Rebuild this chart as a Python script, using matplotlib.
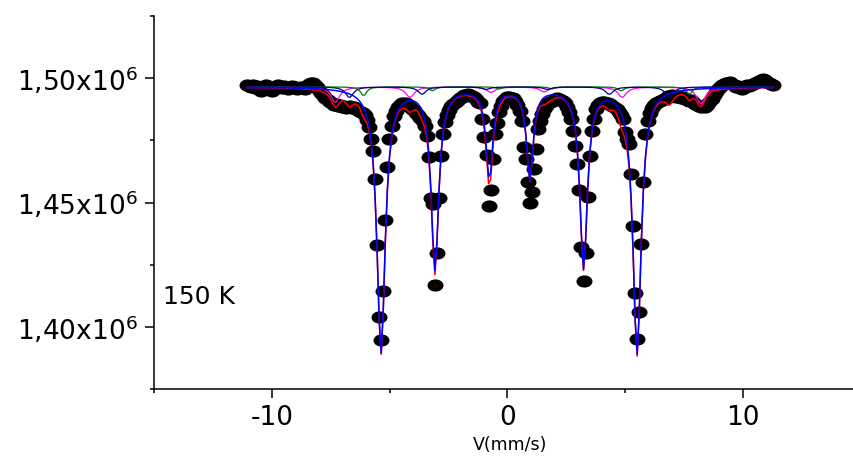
import numpy as np
import matplotlib
matplotlib.use("Agg")
import matplotlib.pyplot as plt
from matplotlib.path import Path
from matplotlib.ticker import FixedLocator, FuncFormatter

plt.rcParams['font.family'] = ['DejaVu Sans']
plt.rcParams['mathtext.fontset'] = 'dejavusans'
plt.rcParams['axes.unicode_minus'] = False

# --- spectrum: 256 channels on a linear velocity scale (mm/s) -------------
V_FIRST, V_LAST, N_CH = -11.05, 11.3, 256

counts_k = [
    1497.2, 1496.8, 1496.4, 1497.2, 1496.0, 1496.8, 1495.6, 1494.8, 1496.0, 1497.2,
    1496.4, 1495.2, 1494.8, 1495.6, 1496.8, 1497.2, 1496.4, 1496.0, 1496.8, 1496.4,
    1495.6, 1496.0, 1496.8, 1496.4, 1495.6, 1496.0, 1496.4, 1496.0, 1495.6, 1496.8,
    1497.6, 1498.0, 1498.0, 1497.2, 1496.4, 1495.2, 1494.0, 1493.1, 1491.9, 1491.1,
    1490.3, 1489.9, 1489.1, 1489.5, 1488.7, 1489.1, 1488.3, 1488.7, 1487.9, 1488.3,
    1488.7, 1487.9, 1488.3, 1487.5, 1486.7, 1486.3, 1485.9, 1485.1, 1483.1, 1480.2,
    1475.4, 1470.6, 1459.3, 1433.1, 1404.0, 1394.8, 1414.5, 1443.1, 1464.1, 1475.4,
    1480.6, 1484.7, 1486.7, 1488.3, 1489.1, 1489.9, 1489.5, 1489.9, 1488.7, 1488.3,
    1487.5, 1487.1, 1485.9, 1485.1, 1483.9, 1482.7, 1480.6, 1476.6, 1468.1, 1452.0,
    1449.2, 1416.9, 1429.8, 1452.0, 1468.5, 1477.4, 1482.3, 1485.1, 1487.1, 1488.7,
    1489.5, 1490.3, 1491.1, 1491.9, 1492.3, 1493.1, 1492.7, 1493.5, 1493.1, 1492.7,
    1492.3, 1491.5, 1490.3, 1489.9, 1483.5, 1476.2, 1469.0, 1448.4, 1455.2, 1467.3,
    1477.4, 1481.9, 1486.3, 1488.7, 1490.7, 1491.5, 1492.3, 1492.3, 1491.9, 1491.9,
    1490.7, 1489.1, 1486.7, 1482.7, 1472.2, 1467.3, 1458.1, 1450.0, 1454.4, 1463.3,
    1471.4, 1479.4, 1482.7, 1485.5, 1487.5, 1488.7, 1489.9, 1490.3, 1490.7, 1491.5,
    1491.9, 1491.5, 1491.1, 1490.7, 1489.9, 1488.3, 1486.3, 1483.5, 1478.6, 1472.6,
    1465.3, 1455.2, 1432.3, 1418.5, 1429.8, 1452.4, 1468.5, 1478.6, 1483.5, 1487.5,
    1489.1, 1489.9, 1490.3, 1490.3, 1489.9, 1489.9, 1489.5, 1488.7, 1488.3, 1487.5,
    1486.3, 1485.1, 1483.5, 1478.2, 1475.4, 1473.4, 1461.3, 1440.7, 1413.7, 1395.2,
    1406.0, 1433.5, 1458.1, 1477.4, 1482.7, 1485.9, 1487.9, 1489.1, 1489.9, 1490.3,
    1490.7, 1491.1, 1491.5, 1491.9, 1492.7, 1492.3, 1493.1, 1492.7, 1492.3, 1492.7,
    1491.9, 1492.3, 1491.5, 1491.1, 1490.7, 1491.1, 1490.3, 1489.5, 1489.1, 1488.7,
    1488.3, 1488.7, 1488.3, 1489.1, 1490.3, 1491.5, 1493.1, 1494.4, 1495.6, 1496.4,
    1497.2, 1497.6, 1498.0, 1498.0, 1498.4, 1497.6, 1497.2, 1496.4, 1496.8, 1496.0,
    1495.6, 1496.4, 1497.2, 1496.8, 1497.2, 1497.6, 1498.0, 1498.4, 1498.8, 1499.2,
    1499.6, 1499.2, 1498.4, 1498.0, 1497.6, 1497.2,
]

# fitted sub-spectra (sextets): line positions (mm/s), depths (k counts),
# half widths at half maximum (mm/s)
BASELINE_K = 1496.5

blue_pos = [-5.36, -3.07, -0.76, 0.96, 3.24, 5.51]
blue_depth = [106.5, 72.6, 36.3, 36.3, 72.2, 106.9]
blue_hw = [0.21, 0.19, 0.17, 0.17, 0.19, 0.21]

navy_pos = [-6.70, -3.62, -0.90, 1.70, 4.33, 6.88]
navy_depth = [4.3, 3.0, 1.0, 1.0, 3.0, 4.3]
navy_hw = [0.20] * 6

green_pos = [-6.10, -3.18, -0.34, 1.90, 4.83, 7.73]
green_depth = [3.6, 1.6, 0.8, 0.8, 1.6, 3.0]
green_hw = [0.15] * 6

magenta_pos = [-7.30, -4.13, -0.69, 1.57, 4.88, 8.22]
magenta_depth = [6.3, 4.2, 2.2, 2.0, 4.2, 6.9]
magenta_hw = [0.22] * 6

Y_TICKS = [1.40e6, 1.45e6, 1.50e6]
Y_MINOR = [1.375e6, 1.425e6, 1.475e6, 1.525e6]
X_TICKS = [-10, 0, 10]
X_MINOR = [-15, -5, 5]


v = np.linspace(V_FIRST, V_LAST, N_CH)
counts = np.array(counts_k) * 1e3


def dips(pos, depth, hw):
    """Lorentzian absorption of one sextet, evaluated on the channels."""
    out = np.zeros_like(v)
    for p, d, w in zip(pos, depth, hw):
        out += d * 1e3 * w ** 2 / ((v - p) ** 2 + w ** 2)
    return out


base = BASELINE_K * 1e3
d_blue = dips(blue_pos, blue_depth, blue_hw)
d_navy = dips(navy_pos, navy_depth, navy_hw)
d_green = dips(green_pos, green_depth, green_hw)
d_mag = dips(magenta_pos, magenta_depth, magenta_hw)
total = base - (d_blue + d_navy + d_green + d_mag)

fig = plt.figure(figsize=(8.54, 4.57), dpi=100)
ax = fig.add_axes([154 / 854, 68 / 457, 700 / 854, 373 / 457])

# ellipse marker, wider than tall
circ = Path.unit_circle()
ellipse = Path(circ.vertices * np.array([1.0, 0.74]), circ.codes)

ax.plot(v, counts, linestyle="none", marker=ellipse, markersize=10.5,
        color="black", zorder=2)
ax.plot(v, total, color="#ff0000", lw=1.1, zorder=3)
ax.plot(v, base - d_mag, color="#ff00ff", lw=0.9, zorder=4)
ax.plot(v, base - d_green, color="#008000", lw=0.9, zorder=4)
ax.plot(v, base - d_navy, color="#000080", lw=0.9, zorder=4)
ax.plot(v, base - d_blue, color="#0000ff", lw=1.1, zorder=5)

ax.set_xlim(-15, 14.72)
ax.set_ylim(1.375e6, 1.525e6)

for s in ["top", "right"]:
    ax.spines[s].set_visible(False)
for s in ["left", "bottom"]:
    ax.spines[s].set_linewidth(1.1)

ax.xaxis.set_major_locator(FixedLocator(X_TICKS))
ax.xaxis.set_minor_locator(FixedLocator(X_MINOR))
ax.yaxis.set_major_locator(FixedLocator(Y_TICKS))
ax.yaxis.set_minor_locator(FixedLocator(Y_MINOR))
ax.yaxis.set_major_formatter(FuncFormatter(
    lambda y, _: f"{y / 1e6:.2f}".replace(".", ",") + r"x10$^{6}$"))
ax.tick_params(which="major", direction="out", length=6.5, width=1.1,
               labelsize=19, pad=5)
ax.tick_params(which="minor", direction="out", length=3, width=1.1)

ax.text(9 / 700, 92 / 373, "150 K", transform=ax.transAxes,
        fontsize=18, va="center", ha="left")
fig.text(510 / 854, 1 - 445 / 457, "V(mm/s)", fontsize=12.5,
         ha="center", va="center")

fig.savefig("out.png", dpi=100)
